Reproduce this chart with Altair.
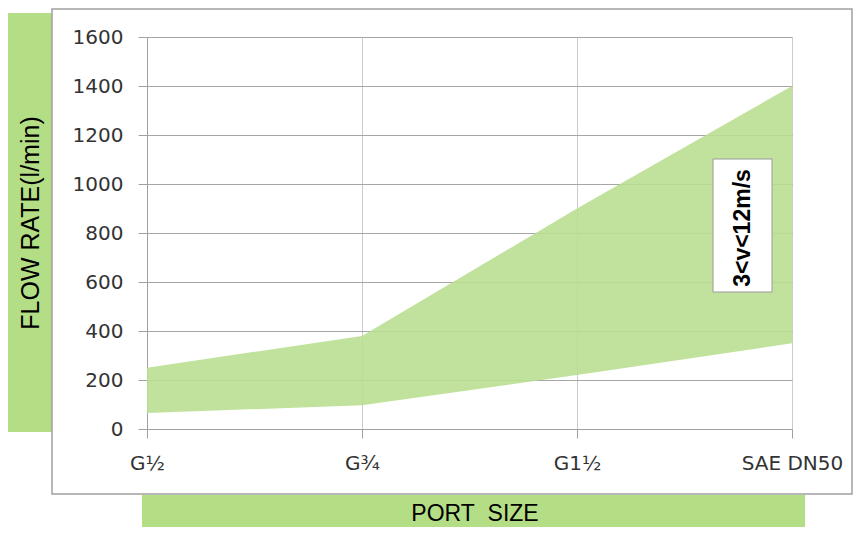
import altair as alt
import pandas as pd

# ---- data ----
ports = ["G½", "G¾", "G1½", "SAE DN50"]
flow_min = [65, 97, 220, 350]
flow_max = [250, 380, 900, 1400]
y_ticks = [0, 200, 400, 600, 800, 1000, 1200, 1400, 1600]
y_title = "FLOW RATE(l/min)"
x_title = "PORT\u00a0 SIZE"
band_label = "3<v<12m/s"

W, H = 645, 392
GREEN = "#b4de86"

df = pd.DataFrame({"port": ports, "low": flow_min, "high": flow_max})
one = pd.DataFrame({"k": [0]})

base = alt.Chart(df)

area = base.mark_area(color="#b9df91", opacity=0.9).encode(
    x=alt.X(
        "port:N",
        sort=ports,
        scale=alt.Scale(type="point", padding=0),
        axis=alt.Axis(
            title=None,
            labelAngle=0,
            labelFont="DejaVu Sans",
            labelFontSize=20,
            labelColor="#333333",
            labelPadding=15,
            tickSize=9,
            tickColor="#a0a0a0",
            domainColor="#a0a0a0",
            gridColor="#cccccc",
            grid=True,
        ),
    ),
    y=alt.Y(
        "low:Q",
        scale=alt.Scale(domain=[0, 1600]),
        axis=alt.Axis(
            title=None,
            values=y_ticks,
            format="d",
            labelFont="DejaVu Sans",
            labelFontSize=20,
            labelColor="#333333",
            labelPadding=15,
            tickSize=9,
            tickColor="#a0a0a0",
            domainColor="#a0a0a0",
            gridColor="#a6a6a6",
            grid=True,
        ),
    ),
    y2="high:Q",
)

deco = alt.Chart(one)

outer_box = deco.mark_rect(fill=None, stroke="#a0a0a0", strokeWidth=1.5).encode(
    x=alt.value(-95), x2=alt.value(705), y=alt.value(-28), y2=alt.value(457)
)
left_band = deco.mark_rect(color=GREEN).encode(
    x=alt.value(-139), x2=alt.value(-95), y=alt.value(-24), y2=alt.value(395)
)
bottom_band = deco.mark_rect(color=GREEN).encode(
    x=alt.value(-5), x2=alt.value(658), y=alt.value(458), y2=alt.value(492)
)
note_box = deco.mark_rect(fill="white", stroke="#999999", strokeWidth=1).encode(
    x=alt.value(566), x2=alt.value(625), y=alt.value(122), y2=alt.value(255)
)
note_text = deco.mark_text(
    text=band_label, angle=270, font="Liberation Sans", fontSize=23,
    fontWeight="bold", color="black", align="center", baseline="middle",
).encode(x=alt.value(596), y=alt.value(191))
y_title_text = deco.mark_text(
    text=y_title, angle=270, font="Liberation Sans", fontSize=25,
    color="black", align="center", baseline="middle",
).encode(x=alt.value(-116), y=alt.value(186))
x_title_text = deco.mark_text(
    text=x_title, font="Liberation Sans", fontSize=23,
    color="black", align="center", baseline="middle",
).encode(x=alt.value(328), y=alt.value(477))

chart = alt.layer(
    left_band, bottom_band, outer_box, area, note_box, note_text,
    y_title_text, x_title_text,
).properties(
    width=W,
    height=H,
    padding={"left": 139, "top": 29, "right": 61, "bottom": 98},
    autosize=alt.AutoSizeParams(type="none"),
    background="white",
).configure_view(stroke=None)

chart.save("out.html", embed_options={"renderer": "svg", "actions": False})
